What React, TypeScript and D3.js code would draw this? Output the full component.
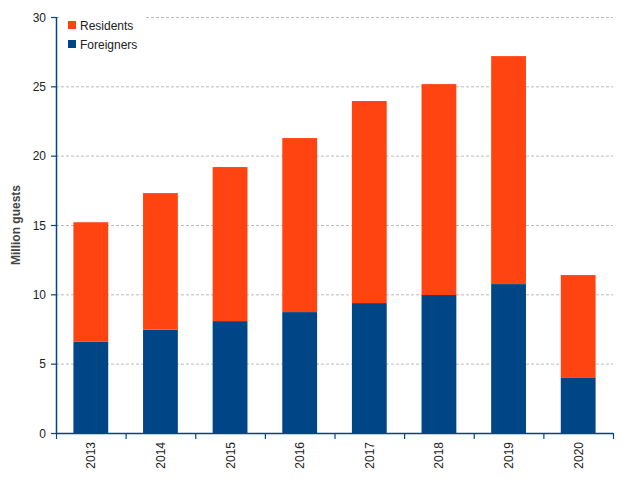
import React from "react";
import * as d3 from "d3";

const years = ["2013", "2014", "2015", "2016", "2017", "2018", "2019", "2020"];
const foreigners = [6.6, 7.45, 8.07, 8.72, 9.37, 9.95, 10.74, 3.97];
const totals = [15.2, 17.3, 19.18, 21.27, 23.94, 25.16, 27.18, 11.39];
const residents = totals.map((t, i) => t - foreigners[i]);
const yTicks = [0, 5, 10, 15, 20, 25, 30];
const seriesNames = ["Residents", "Foreigners"];

const W = 625, H = 480;
const M = { left: 56, right: 12, top: 17, bottom: 47 };
const BLUE = "#004687";
const ORANGE = "#ff4411";
const FONT = "'Liberation Sans', Arial, sans-serif";

export default function App() {
  const x = d3.scaleBand<string>().domain(years).range([M.left, W - M.right]).paddingInner(0.5).paddingOuter(0.25);
  const xb = d3.scaleBand<string>().domain(years).range([M.left, W - M.right]);
  const y = d3.scaleLinear().domain([0, 30]).range([H - M.bottom, M.top]);
  const y0 = y(0);

  return (
    <svg width={W} height={H} style={{ position: "absolute", left: 0, top: 0, fontFamily: FONT }}>
      <rect width={W} height={H} fill="#fff" />
      {yTicks.filter(t => t > 0).map(t => (
        <line key={t} x1={M.left} x2={W - M.right} y1={y(t) + 0.5} y2={y(t) + 0.5} stroke="#bbb" strokeDasharray="3,2" strokeWidth={1} />
      ))}
      {years.map((yr, i) => (
        <g key={yr}>
          <rect x={x(yr)} width={x.bandwidth()} y={y(foreigners[i])} height={y0 - y(foreigners[i])} fill={BLUE} />
          <rect x={x(yr)} width={x.bandwidth()} y={y(foreigners[i] + residents[i])} height={y(foreigners[i]) - y(foreigners[i] + residents[i])} fill={ORANGE} />
        </g>
      ))}
      {/* legend */}
      <rect x={60} y={12} width={86} height={44} fill="#fff" />
      {seriesNames.map((s, i) => (
        <g key={s}>
          <rect x={68} y={21 + i * 19} width={8} height={8} fill={i === 0 ? ORANGE : BLUE} />
          <text x={80} y={30 + i * 19} fontSize={12} fill="#222">{s}</text>
        </g>
      ))}
      {/* y axis */}
      <line x1={M.left + 0.5} x2={M.left + 0.5} y1={M.top} y2={y0} stroke={BLUE} strokeWidth={1.5} />
      {yTicks.map(t => (
        <g key={t}>
          <line x1={M.left - 5} x2={M.left} y1={y(t) + 0.5} y2={y(t) + 0.5} stroke={BLUE} strokeWidth={1.2} />
          <text x={M.left - 10} y={y(t) + 4.5} fontSize={12} textAnchor="end" fill="#222">{t}</text>
        </g>
      ))}
      {/* x axis */}
      <line x1={M.left} x2={W - M.right} y1={y0 + 0.5} y2={y0 + 0.5} stroke={BLUE} strokeWidth={1.5} />
      {[...years.map(yr => xb(yr) as number), W - M.right].map((px, i) => (
        <line key={i} x1={px + 0.5} x2={px + 0.5} y1={y0} y2={y0 + 6} stroke={BLUE} strokeWidth={1.2} />
      ))}
      {years.map(yr => {
        const cx = (x(yr) as number) + x.bandwidth() / 2;
        return (
          <text key={yr} transform={`translate(${cx + 4.5},${y0 + 9}) rotate(-90)`} fontSize={12} textAnchor="end" fill="#222">{yr}</text>
        );
      })}
      <text transform={`translate(${20},${(M.top + y0) / 2}) rotate(-90)`} fontSize={12} fontWeight="bold" textAnchor="middle" fill="#444">Million guests</text>
    </svg>
  );
}
